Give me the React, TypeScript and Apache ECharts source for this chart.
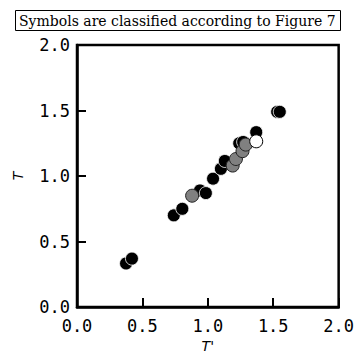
import React, { useEffect, useRef } from "react";
import * as echarts from "echarts";

const blackPoints: number[][] = [
  [0.375, 0.333], [0.42, 0.37], [0.74, 0.70], [0.805, 0.75], [0.94, 0.89],
  [0.985, 0.87], [1.04, 0.98], [1.10, 1.055], [1.13, 1.115], [1.24, 1.25],
  [1.27, 1.26], [1.37, 1.335], [1.53, 1.49], [1.55, 1.49],
];
const grayPoints: number[][] = [
  [0.88, 0.85], [1.19, 1.08], [1.215, 1.13], [1.265, 1.19], [1.29, 1.24],
];
const whitePoints: number[][] = [[1.37, 1.265]];

const titleText = "Symbols are classified according to Figure 7";
const xName = "T'";
const yName = "T";

export default function App() {
  const ref = useRef<HTMLDivElement>(null);
  useEffect(() => {
    if (!ref.current) return;
    const chart = echarts.init(ref.current, undefined, { renderer: "svg" });
    const tickFont = { fontFamily: "DejaVu Sans Mono", fontSize: 17, color: "#000" };
    chart.setOption({
      animation: false,
      title: {
        text: titleText,
        left: 15,
        top: 10,
        padding: [4, 5, 3, 4],
        borderColor: "#000",
        borderWidth: 1,
        textStyle: { fontFamily: "DejaVu Serif", fontSize: 14, fontWeight: "normal", color: "#000" },
      },
      grid: {
        left: 77, right: 12, top: 45, bottom: 45,
        show: true, borderColor: "#000", borderWidth: 2.5, backgroundColor: "transparent",
      },
      xAxis: {
        type: "value", min: 0, max: 2, interval: 0.5,
        name: xName, nameLocation: "middle", nameGap: 31,
        nameTextStyle: { fontFamily: "DejaVu Sans", fontStyle: "italic", fontSize: 14, color: "#000" },
        axisLine: { show: true, lineStyle: { color: "#000", width: 2.5 } },
        axisTick: { show: true, inside: true, length: 9, lineStyle: { color: "#000", width: 2 } },
        axisLabel: { ...tickFont, margin: 10, formatter: (v: number) => v.toFixed(1) },
        splitLine: { show: false },
      },
      yAxis: {
        type: "value", min: 0, max: 2, interval: 0.5,
        name: yName, nameLocation: "middle", nameGap: 52,
        nameTextStyle: { fontFamily: "DejaVu Sans", fontStyle: "italic", fontSize: 14, color: "#000" },
        axisLine: { show: true, lineStyle: { color: "#000", width: 2.5 } },
        axisTick: { show: true, inside: true, length: 9, lineStyle: { color: "#000", width: 2 } },
        axisLabel: { ...tickFont, margin: 7, formatter: (v: number) => v.toFixed(1) },
        splitLine: { show: false },
      },
      series: [
        {
          type: "scatter", data: blackPoints, symbolSize: 13,
          itemStyle: { color: "#000", borderColor: "#fff", borderWidth: 0.8, opacity: 1 },
        },
        {
          type: "scatter", data: grayPoints, symbolSize: 13,
          itemStyle: { color: "#808080", borderColor: "#222", borderWidth: 1, opacity: 1 },
        },
        {
          type: "scatter", data: whitePoints, symbolSize: 13,
          itemStyle: { color: "#fff", borderColor: "#000", borderWidth: 1, opacity: 1 },
        },
      ],
    });
    return () => chart.dispose();
  }, []);
  return (
    <div
      ref={ref}
      style={{ position: "fixed", left: 0, top: 0, width: 357, height: 358, background: "#fff" }}
    />
  );
}
